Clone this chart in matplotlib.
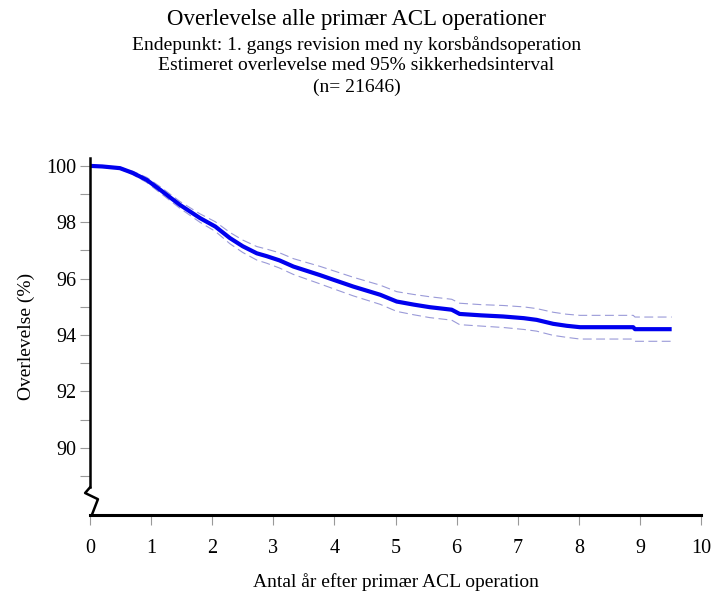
import matplotlib
matplotlib.use("Agg")
import matplotlib.pyplot as plt
import numpy as np

# Data
years = [0.0, 0.2, 0.49, 0.7, 0.93, 1.15, 1.47, 1.8, 2.05, 2.29, 2.5, 2.73, 2.89, 3.1, 3.33,
         3.76, 4.0, 4.31, 4.75, 5.02, 5.3, 5.56, 5.92, 6.05, 6.4, 6.76, 7.1, 7.31, 7.58,
         7.8, 8.02, 8.89, 8.92, 9.52]
survival = [100.0, 99.98, 99.92, 99.75, 99.5, 99.15, 98.62, 98.15, 97.85, 97.44, 97.15, 96.9,
            96.8, 96.65, 96.43, 96.13, 95.95, 95.72, 95.43, 95.19, 95.08, 94.99, 94.9, 94.75,
            94.7, 94.66, 94.6, 94.54, 94.40, 94.33, 94.28, 94.28, 94.21, 94.21]
ci_half = [0.0, 0.01, 0.03, 0.06, 0.09, 0.11, 0.12, 0.15, 0.17, 0.2, 0.22, 0.24, 0.25, 0.27,
           0.28, 0.31, 0.32, 0.33, 0.34, 0.35, 0.36, 0.37, 0.37, 0.38, 0.38, 0.39, 0.4, 0.4,
           0.41, 0.41, 0.42, 0.42, 0.43, 0.43]
lower = [s - h for s, h in zip(survival, ci_half)]
upper = [s + h for s, h in zip(survival, ci_half)]

x_ticks = list(range(0, 11))
y_ticks = [90, 92, 94, 96, 98, 100]
y_minor = [89, 91, 93, 95, 97, 99]

title = "Overlevelse alle primær ACL operationer"
subtitle_lines = ["Endepunkt: 1. gangs revision med ny korsbåndsoperation",
                  "Estimeret overlevelse med 95% sikkerhedsinterval",
                  "(n= 21646)"]

plt.rcParams['font.family'] = ['Liberation Serif', 'DejaVu Serif']

fig = plt.figure(figsize=(7.13, 5.95), dpi=100)
ax = fig.add_axes([90/713, 1-515/595, (701-90)/713, (515-158)/595])

ax.plot(years, upper, color='#9a9ad8', lw=0.8, ls=(0, (8, 4)))
ax.plot(years, lower, color='#9a9ad8', lw=0.8, ls=(0, (8, 4)))
ax.plot(years, survival, color='#0000ee', lw=3.0, solid_capstyle='butt')

ax.set_xlim(0, 10)
ax.set_ylim(87.62, 100.28)
ax.set_xticks(x_ticks)
ax.set_yticks(y_ticks)
ax.set_yticks(y_minor, minor=True)
ax.tick_params(axis='both', which='both', color='#999999', width=0.8, labelsize=14.5)
ax.tick_params(axis='x', length=7, pad=10)
ax.tick_params(axis='y', which='major', length=7, pad=3)
ax.tick_params(axis='y', which='minor', length=7)

for s in ['top', 'right']:
    ax.spines[s].set_visible(False)
ax.spines['left'].set_linewidth(1.8)
ax.spines['bottom'].set_linewidth(2.2)
ax.spines['left'].set_bounds(88.6, 100.28)

# axis break zigzag
ax.plot([0.0, -0.08, 0.13, 0.03], [88.6, 88.4, 88.18, 87.62], color='black', lw=1.8,
        clip_on=False)

ax.set_xlabel("Antal år efter primær ACL operation", fontsize=14, labelpad=11)
ax.set_ylabel("Overlevelse (%)", fontsize=14, labelpad=8)

fig.text(0.5, 1-20/595, title, ha='center', va='center', fontsize=16.5)
for i, line in enumerate(subtitle_lines):
    fig.text(0.5, 1-(45 + 21*i)/595, line, ha='center', va='center', fontsize=14)

fig.savefig("out.png", dpi=100)
